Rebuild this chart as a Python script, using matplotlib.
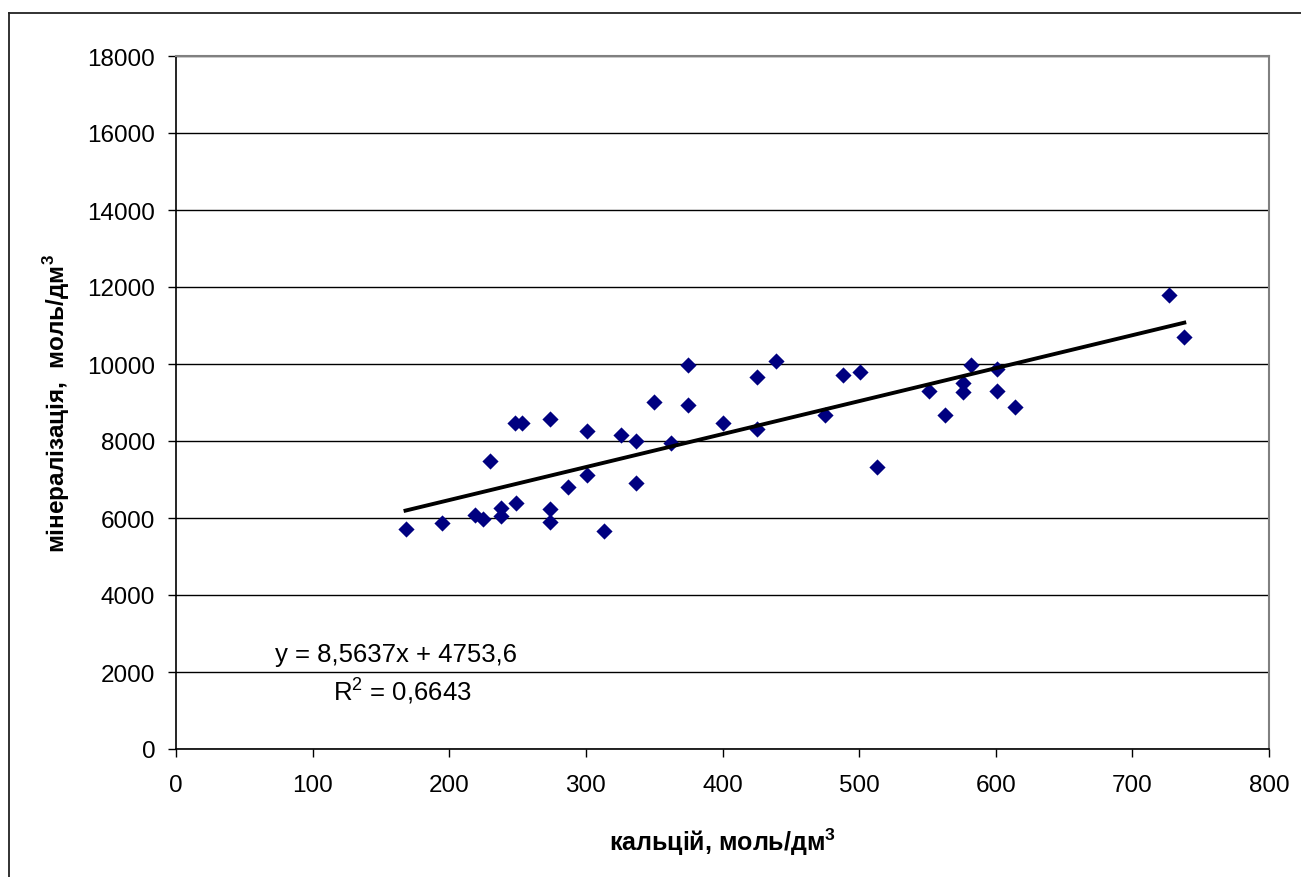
import matplotlib.pyplot as plt
from matplotlib.lines import Line2D
import numpy as np

plt.rcParams.update({"font.family": ["Liberation Sans", "DejaVu Sans"], "font.size": 17.5,
                     "mathtext.fontset": "custom", "mathtext.rm": "Liberation Sans",
                     "mathtext.bf": "Liberation Sans:bold"})

# calcium vs mineralisation
calcium = [168, 195, 219, 225, 238, 238, 230, 249, 248, 253, 274, 274, 274, 287, 301,
           301, 313, 326, 337, 337, 350, 375, 362, 375, 400, 425, 425, 439, 475, 488,
           501, 513, 551, 563, 576, 576, 582, 601, 601, 614, 727, 738]
mineral = [5710, 5870, 6075, 5975, 6250, 6045, 7480, 6390, 8465, 8465, 8570, 6235, 5905,
           6805, 8260, 7115, 5655, 8155, 7990, 6910, 9020, 8935, 7950, 9970, 8465, 9660,
           8310, 10075, 8675, 9710, 9785, 7325, 9290, 8675, 9505, 9280, 9970, 9870, 9290,
           8885, 11790, 10695]
slope, intercept = 8.5637, 4753.6
r2 = 0.6643

fig = plt.figure(figsize=(13.01, 8.78), dpi=100)
ax = fig.add_axes([176/1301, 1-750/878, 1093/1301, 693/878])

ax.scatter(calcium, mineral, marker='D', s=68, color='#000080', zorder=3, linewidths=0)
xs = np.array([min(calcium), max(calcium)])
ax.plot(xs, slope*xs + intercept, color='black', lw=2.8, zorder=4)

ax.set_xlim(0, 800)
ax.set_ylim(0, 18000)
ax.set_xticks(np.arange(0, 801, 100))
ax.set_yticks(np.arange(0, 18001, 2000))
ax.yaxis.grid(True, color='black', lw=1)
ax.set_axisbelow(True)
ax.tick_params(direction='out', length=6, width=1, color='black')
ax.tick_params(axis='y', pad=9)
ax.tick_params(axis='x', pad=12)
for s in ['top', 'right']:
    ax.spines[s].set_color('#808080')
    ax.spines[s].set_linewidth(1.5)
for s in ['left', 'bottom']:
    ax.spines[s].set_linewidth(1.2)

ax.set_xlabel(r'кальцій, моль/дм$^\mathbf{3}$', fontweight='bold', fontsize=18, labelpad=21)
ax.set_ylabel(r'мінералізація,  моль/дм$^\mathbf{3}$', fontweight='bold', fontsize=17.5, labelpad=11)

ax.text(161, 2290, 'y = 8,5637x + 4753,6', ha='center', va='baseline', fontsize=18.5)
ax.text(166, 1300, r'R$^2$ = 0,6643', ha='center', va='baseline', fontsize=18.5)

# outer chart frame (only top and left edges are visible)
fig.add_artist(Line2D([9/1301, 9/1301], [0, 1-14/878], color='#222222', lw=1.3))
fig.add_artist(Line2D([9/1301, 1], [1-14/878, 1-14/878], color='#222222', lw=1.3))

fig.savefig('out.png', dpi=100)
